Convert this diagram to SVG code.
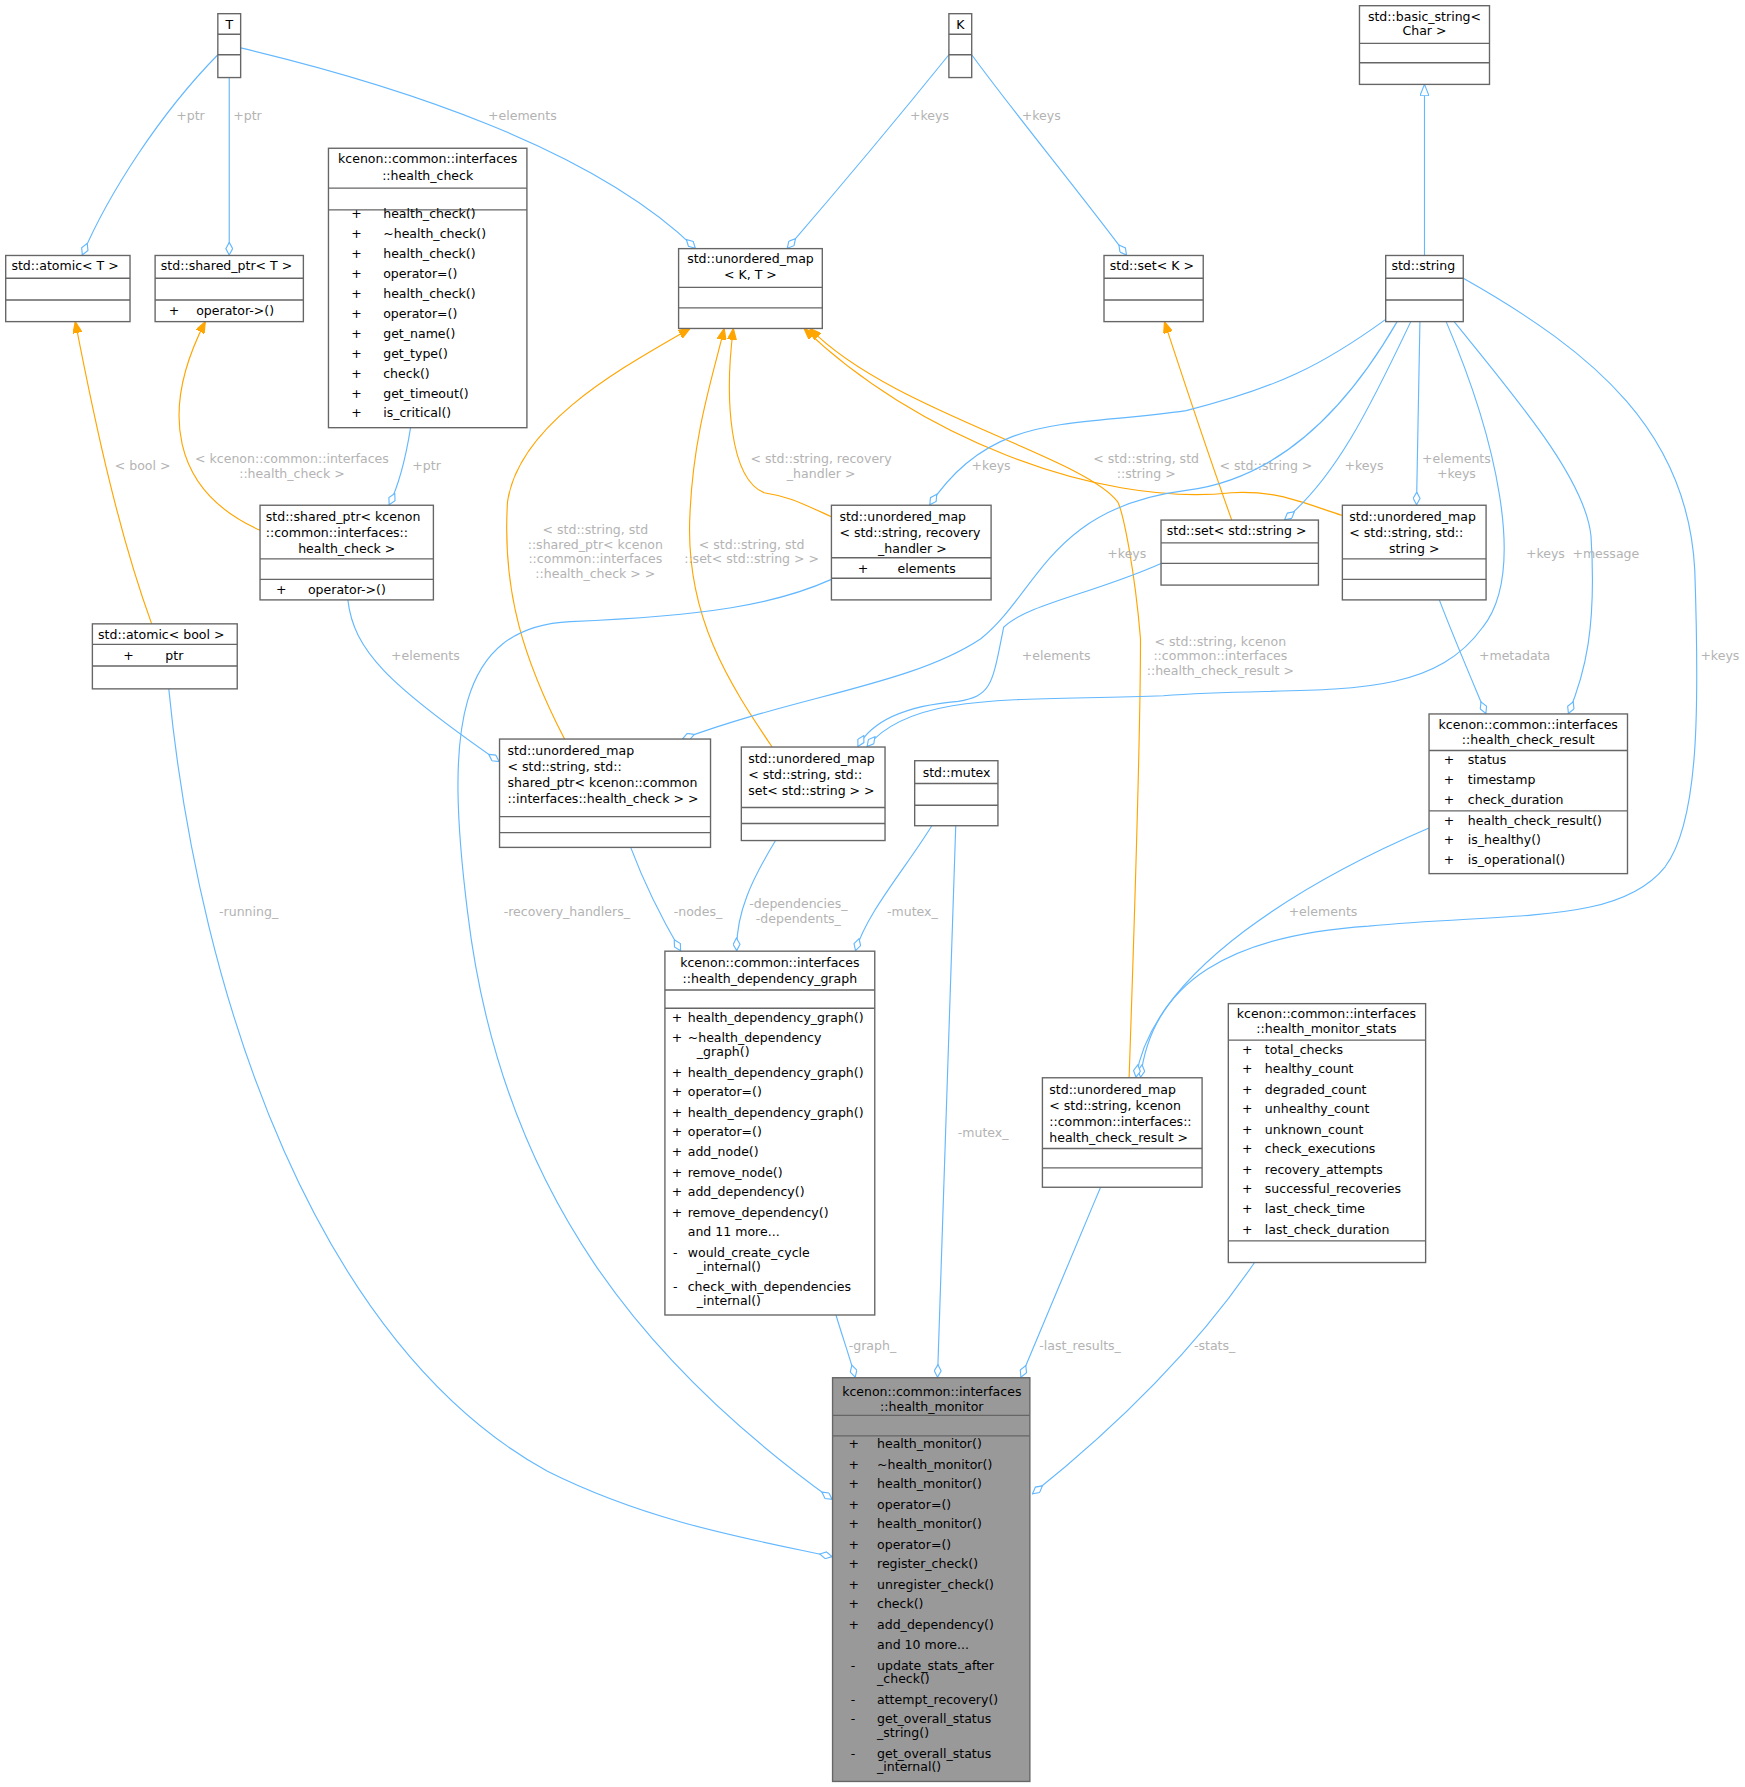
<svg xmlns="http://www.w3.org/2000/svg" width="1745" height="1787" viewBox="0 0 1745 1787">
<defs>
<style>
.n{fill:#fff;stroke:#666;stroke-width:1.2}
.g{fill:#999;stroke:#666;stroke-width:1.2}
.s{stroke:#666;stroke-width:1.2}
text{font-family:"DejaVu Sans",sans-serif;font-size:11px;fill:#000}
.c{text-anchor:middle}
.l{fill:#b3b3b3;text-anchor:middle}
.e{fill:none;stroke:#63b8ff;stroke-width:1}
.o{fill:none;stroke:#ffa500;stroke-width:1}
</style>
<marker id="dia" viewBox="0 0 12 7" refX="12" refY="3.5" markerWidth="12" markerHeight="7" markerUnits="userSpaceOnUse" orient="auto"><path d="M0.5,3.5 L6,0.5 L11.5,3.5 L6,6.5 Z" fill="#fff" stroke="#63b8ff" stroke-width="1"/></marker>
<marker id="arr" viewBox="0 0 10 8" refX="10" refY="4" markerWidth="10" markerHeight="8" markerUnits="userSpaceOnUse" orient="auto"><path d="M0,0 L10,4 L0,8 Z" fill="#ffa500" stroke="#ffa500"/></marker>
<marker id="tri" viewBox="0 0 10 8" refX="10" refY="4" markerWidth="10" markerHeight="8" markerUnits="userSpaceOnUse" orient="auto"><path d="M0,0 L10,4 L0,8 Z" fill="#fff" stroke="#63b8ff"/></marker>
</defs>
<rect width="1745" height="1787" fill="#fff"/>
<g transform="scale(1.1405)">
<g id="connectors">
<path class="e" marker-end="url(#dia)" d="M191,48 C140,100 95,170 72,224"/>
<text class="l" x="167" y="105">+ptr</text>
<path class="e" marker-end="url(#dia)" d="M201,68 L201,224"/>
<text class="l" x="217" y="105">+ptr</text>
<path class="e" marker-end="url(#dia)" d="M211,42 C350,75 520,130 610,218"/>
<text class="l" x="458" y="105">+elements</text>
<path class="e" marker-end="url(#dia)" d="M832,48 C790,100 740,160 690,218"/>
<text class="l" x="815" y="105">+keys</text>
<path class="e" marker-end="url(#dia)" d="M852,48 C890,100 940,160 988,224"/>
<text class="l" x="913" y="105">+keys</text>
<path class="e" marker-end="url(#tri)" d="M1249,224 L1249,74"/>
<path class="e" marker-end="url(#dia)" d="M360,375 C356,400 350,425 341,443"/>
<text class="l" x="374" y="412">+ptr</text>
<path class="o" marker-end="url(#arr)" d="M228,465 C150,430 140,360 180,282"/>
<text class="l" x="256" y="406">&lt; kcenon::common::interfaces</text>
<text class="l" x="256" y="419">::health_check &gt;</text>
<path class="o" marker-end="url(#arr)" d="M133,547 C105,470 85,380 66,282"/>
<text class="l" x="125" y="412">&lt; bool &gt;</text>
<path class="o" marker-end="url(#arr)" d="M495,648 C460,580 440,520 445,440 C455,370 550,320 605,288"/>
<text class="l" x="522" y="468">&lt; std::string, std</text>
<text class="l" x="522" y="481">::shared_ptr&lt; kcenon</text>
<text class="l" x="522" y="494">::common::interfaces</text>
<text class="l" x="522" y="507">::health_check &gt; &gt;</text>
<path class="o" marker-end="url(#arr)" d="M677,655 C640,600 600,540 605,450 C608,380 625,330 635,288"/>
<text class="l" x="659" y="481">&lt; std::string, std</text>
<text class="l" x="659" y="494">::set&lt; std::string &gt; &gt;</text>
<path class="o" marker-end="url(#arr)" d="M729,453 C700,440 690,435 670,432 C640,420 635,350 643,288"/>
<text class="l" x="720" y="406">&lt; std::string, recovery</text>
<text class="l" x="720" y="419">_handler &gt;</text>
<path class="o" marker-end="url(#arr)" d="M1177,452 C1140,440 1120,430 1080,432 C960,445 800,380 705,288"/>
<text class="l" x="1005" y="406">&lt; std::string, std</text>
<text class="l" x="1005" y="419">::string &gt;</text>
<path class="o" marker-end="url(#arr)" d="M990,945 C995,800 1000,620 1000,560 C995,500 985,450 980,440 C950,400 780,360 710,288"/>
<text class="l" x="1070" y="566">&lt; std::string, kcenon</text>
<text class="l" x="1070" y="579">::common::interfaces</text>
<text class="l" x="1070" y="592">::health_check_result &gt;</text>
<path class="o" marker-end="url(#arr)" d="M1080,456 C1060,400 1040,340 1021,282"/>
<text class="l" x="1110" y="412">&lt; std::string &gt;</text>
<path class="e" marker-end="url(#dia)" d="M1215,280 C1160,320 1120,340 1040,360 C940,375 870,360 815,443"/>
<text class="l" x="869" y="412">+keys</text>
<path class="e" marker-end="url(#dia)" d="M1225,282 C1180,360 1120,420 1040,430 C920,445 910,520 860,560 C800,600 700,610 598,648"/>
<text class="l" x="988" y="489">+keys</text>
<path class="e" marker-end="url(#dia)" d="M1237,282 C1200,360 1170,420 1126,456"/>
<text class="l" x="1196" y="412">+keys</text>
<path class="e" marker-end="url(#dia)" d="M1245,282 L1242,443"/>
<text class="l" x="1277" y="406">+elements</text>
<text class="l" x="1277" y="419">+keys</text>
<path class="e" marker-end="url(#dia)" d="M1268,282 C1310,380 1340,500 1300,550 C1250,620 1150,600 1020,610 C900,615 800,605 760,655"/>
<text class="l" x="1355" y="489">+keys</text>
<path class="e" marker-end="url(#dia)" d="M1275,282 C1330,350 1390,420 1395,470 C1400,550 1390,590 1375,626"/>
<text class="l" x="1408" y="489">+message</text>
<path class="e" marker-end="url(#dia)" d="M1283,244 C1400,310 1480,380 1486,500 C1490,620 1490,720 1460,760 C1420,810 1330,800 1200,812 C1080,820 1010,860 1000,945"/>
<text class="l" x="1508" y="579">+keys</text>
<path class="e" marker-end="url(#dia)" d="M1018,494 C960,520 900,530 880,550 C870,600 870,610 840,615 C780,620 760,640 752,655"/>
<text class="l" x="926" y="579">+elements</text>
<path class="e" marker-end="url(#dia)" d="M1262,526 C1275,560 1290,595 1303,626"/>
<text class="l" x="1328" y="579">+metadata</text>
<path class="e" marker-end="url(#dia)" d="M1253,726 C1150,770 1010,850 996,945"/>
<text class="l" x="1160" y="803">+elements</text>
<path class="e" marker-end="url(#dia)" d="M305,526 C310,570 340,600 438,668"/>
<text class="l" x="373" y="579">+elements</text>
<path class="e" marker-end="url(#dia)" d="M553,743 C565,775 580,805 597,834"/>
<text class="l" x="612" y="803">-nodes_</text>
<path class="e" marker-end="url(#dia)" d="M680,737 C660,770 645,800 646,834"/>
<text class="l" x="700" y="796">-dependencies_</text>
<text class="l" x="700" y="809">-dependents_</text>
<path class="e" marker-end="url(#dia)" d="M817,724 C795,760 760,800 750,834"/>
<text class="l" x="800" y="803">-mutex_</text>
<path class="e" marker-end="url(#dia)" d="M838,724 L822,1208"/>
<text class="l" x="862" y="997">-mutex_</text>
<path class="e" marker-end="url(#dia)" d="M733,1153 C738,1170 745,1190 750,1208"/>
<text class="l" x="765" y="1184">-graph_</text>
<path class="e" marker-end="url(#dia)" d="M965,1041 C940,1100 915,1160 895,1208"/>
<text class="l" x="947" y="1184">-last_results_</text>
<path class="e" marker-end="url(#dia)" d="M1100,1107 C1050,1180 980,1250 905,1310"/>
<text class="l" x="1065" y="1184">-stats_</text>
<path class="e" marker-end="url(#dia)" d="M729,508 C680,530 620,540 500,545 C400,550 390,640 410,800 C440,1050 570,1200 730,1315"/>
<text class="l" x="497" y="803">-recovery_handlers_</text>
<path class="e" marker-end="url(#dia)" d="M148,604 C175,880 280,1180 480,1290 C570,1335 660,1350 730,1365"/>
<text class="l" x="218" y="803">-running_</text>
</g>

<g id="T"><rect class="n" x="191" y="12" width="20" height="56"/><path class="s" d="M191,30H211M191,48H211"/><text class="c" x="201" y="25">T</text></g>
<g id="K"><rect class="n" x="832" y="12" width="20" height="56"/><path class="s" d="M832,30H852M832,48H852"/><text class="c" x="842" y="25">K</text></g>
<g id="basic_string"><rect class="n" x="1192" y="5" width="114" height="69"/><path class="s" d="M1192,38H1306M1192,55H1306"/><text class="c" x="1249" y="18">std::basic_string&lt;</text><text class="c" x="1249" y="31">Char &gt;</text></g>
<g id="atomic_T"><rect class="n" x="5" y="224" width="109" height="58"/><path class="s" d="M5,244H114M5,263H114"/><text x="10" y="237">std::atomic&lt; T &gt;</text></g>
<g id="shared_ptr_T"><rect class="n" x="136" y="224" width="130" height="58"/><path class="s" d="M136,244H266M136,263H266"/><text x="141" y="237">std::shared_ptr&lt; T &gt;</text><text x="148" y="276">+</text><text x="172" y="276">operator-&gt;()</text></g>
<g id="health_check"><rect class="n" x="288" y="130" width="174" height="245"/><path class="s" d="M288,165H462M288,184H462"/><text class="c" x="375" y="143">kcenon::common::interfaces</text><text class="c" x="375" y="158">::health_check</text>
<text x="308" y="191">+</text><text x="336" y="191">health_check()</text>
<text x="308" y="209">+</text><text x="336" y="209">~health_check()</text>
<text x="308" y="226">+</text><text x="336" y="226">health_check()</text>
<text x="308" y="244">+</text><text x="336" y="244">operator=()</text>
<text x="308" y="261">+</text><text x="336" y="261">health_check()</text>
<text x="308" y="279">+</text><text x="336" y="279">operator=()</text>
<text x="308" y="296">+</text><text x="336" y="296">get_name()</text>
<text x="308" y="314">+</text><text x="336" y="314">get_type()</text>
<text x="308" y="331">+</text><text x="336" y="331">check()</text>
<text x="308" y="349">+</text><text x="336" y="349">get_timeout()</text>
<text x="308" y="366">+</text><text x="336" y="366">is_critical()</text></g>
<g id="umap_KT"><rect class="n" x="595" y="218" width="126" height="70"/><path class="s" d="M595,252H721M595,270H721"/><text class="c" x="658" y="231">std::unordered_map</text><text class="c" x="658" y="245">&lt; K, T &gt;</text></g>
<g id="set_K"><rect class="n" x="968" y="224" width="87" height="58"/><path class="s" d="M968,244H1055M968,263H1055"/><text x="973" y="237">std::set&lt; K &gt;</text></g>
<g id="string"><rect class="n" x="1215" y="224" width="68" height="58"/><path class="s" d="M1215,244H1283M1215,263H1283"/><text x="1220" y="237">std::string</text></g>
<g id="shared_ptr_hc"><rect class="n" x="228" y="443" width="152" height="83"/><path class="s" d="M228,490H380M228,508H380"/><text x="233" y="457">std::shared_ptr&lt; kcenon</text><text x="233" y="471">::common::interfaces::</text><text class="c" x="304" y="485">health_check &gt;</text><text x="242" y="521">+</text><text x="270" y="521">operator-&gt;()</text></g>
<g id="atomic_bool"><rect class="n" x="81" y="547" width="127" height="57"/><path class="s" d="M81,565H208M81,584H208"/><text x="86" y="560">std::atomic&lt; bool &gt;</text><text x="108" y="579">+</text><text x="145" y="579">ptr</text></g>
<g id="umap_recovery"><rect class="n" x="729" y="443" width="140" height="83"/><path class="s" d="M729,489H869M729,507H869"/><text x="736" y="457">std::unordered_map</text><text x="736" y="471">&lt; std::string, recovery</text><text class="c" x="800" y="485">_handler &gt;</text><text x="752" y="502">+</text><text x="787" y="502">elements</text></g>
<g id="set_string"><rect class="n" x="1018" y="456" width="138" height="57"/><path class="s" d="M1018,476H1156M1018,494H1156"/><text x="1023" y="469">std::set&lt; std::string &gt;</text></g>
<g id="umap_ss"><rect class="n" x="1177" y="443" width="126" height="83"/><path class="s" d="M1177,490H1303M1177,508H1303"/><text x="1183" y="457">std::unordered_map</text><text x="1183" y="471">&lt; std::string, std::</text><text class="c" x="1240" y="485">string &gt;</text></g>
<g id="umap_sp"><rect class="n" x="438" y="648" width="185" height="95"/><path class="s" d="M438,716H623M438,730H623"/><text x="445" y="662">std::unordered_map</text><text x="445" y="676">&lt; std::string, std::</text><text x="445" y="690">shared_ptr&lt; kcenon::common</text><text x="445" y="704">::interfaces::health_check &gt; &gt;</text></g>
<g id="umap_set"><rect class="n" x="650" y="655" width="126" height="82"/><path class="s" d="M650,708H776M650,722H776"/><text x="656" y="669">std::unordered_map</text><text x="656" y="683">&lt; std::string, std::</text><text x="656" y="697">set&lt; std::string &gt; &gt;</text></g>
<g id="mutex"><rect class="n" x="802" y="667" width="73" height="57"/><path class="s" d="M802,687H875M802,706H875"/><text x="809" y="681">std::mutex</text></g>
<g id="health_check_result"><rect class="n" x="1253" y="626" width="174" height="140"/><path class="s" d="M1253,658H1427M1253,711H1427"/><text class="c" x="1340" y="639">kcenon::common::interfaces</text><text class="c" x="1340" y="652">::health_check_result</text>
<text x="1266" y="670">+</text><text x="1287" y="670">status</text>
<text x="1266" y="687">+</text><text x="1287" y="687">timestamp</text>
<text x="1266" y="705">+</text><text x="1287" y="705">check_duration</text>
<text x="1266" y="723">+</text><text x="1287" y="723">health_check_result()</text>
<text x="1266" y="740">+</text><text x="1287" y="740">is_healthy()</text>
<text x="1266" y="758">+</text><text x="1287" y="758">is_operational()</text></g>
<g id="health_dependency_graph"><rect class="n" x="583" y="834" width="184" height="319"/><path class="s" d="M583,868H767M583,884H767"/><text class="c" x="675" y="848">kcenon::common::interfaces</text><text class="c" x="675" y="862">::health_dependency_graph</text>
<text x="589" y="896">+</text><text x="603" y="896">health_dependency_graph()</text>
<text x="589" y="914">+</text><text x="603" y="914">~health_dependency</text><text x="611" y="926">_graph()</text>
<text x="589" y="944">+</text><text x="603" y="944">health_dependency_graph()</text>
<text x="589" y="961">+</text><text x="603" y="961">operator=()</text>
<text x="589" y="979">+</text><text x="603" y="979">health_dependency_graph()</text>
<text x="589" y="996">+</text><text x="603" y="996">operator=()</text>
<text x="589" y="1014">+</text><text x="603" y="1014">add_node()</text>
<text x="589" y="1032">+</text><text x="603" y="1032">remove_node()</text>
<text x="589" y="1049">+</text><text x="603" y="1049">add_dependency()</text>
<text x="589" y="1067">+</text><text x="603" y="1067">remove_dependency()</text>
<text x="603" y="1084">and 11 more...</text>
<text x="590" y="1102">-</text><text x="603" y="1102">would_create_cycle</text><text x="611" y="1114">_internal()</text>
<text x="590" y="1132">-</text><text x="603" y="1132">check_with_dependencies</text><text x="611" y="1144">_internal()</text></g>
<g id="umap_hcr"><rect class="n" x="914" y="945" width="140" height="96"/><path class="s" d="M914,1007H1054M914,1024H1054"/><text x="920" y="959">std::unordered_map</text><text x="920" y="973">&lt; std::string, kcenon</text><text x="920" y="987">::common::interfaces::</text><text x="920" y="1001">health_check_result &gt;</text></g>
<g id="health_monitor_stats"><rect class="n" x="1077" y="880" width="173" height="227"/><path class="s" d="M1077,912H1250M1077,1088H1250"/><text class="c" x="1163" y="893">kcenon::common::interfaces</text><text class="c" x="1163" y="906">::health_monitor_stats</text>
<text x="1089" y="924">+</text><text x="1109" y="924">total_checks</text>
<text x="1089" y="941">+</text><text x="1109" y="941">healthy_count</text>
<text x="1089" y="959">+</text><text x="1109" y="959">degraded_count</text>
<text x="1089" y="976">+</text><text x="1109" y="976">unhealthy_count</text>
<text x="1089" y="994">+</text><text x="1109" y="994">unknown_count</text>
<text x="1089" y="1011">+</text><text x="1109" y="1011">check_executions</text>
<text x="1089" y="1029">+</text><text x="1109" y="1029">recovery_attempts</text>
<text x="1089" y="1046">+</text><text x="1109" y="1046">successful_recoveries</text>
<text x="1089" y="1064">+</text><text x="1109" y="1064">last_check_time</text>
<text x="1089" y="1082">+</text><text x="1109" y="1082">last_check_duration</text></g>
<g id="health_monitor"><rect class="g" x="730" y="1208" width="173" height="354"/><path class="s" d="M730,1241H903M730,1259H903"/><text class="c" x="817" y="1224">kcenon::common::interfaces</text><text class="c" x="817" y="1237">::health_monitor</text>
<text x="744" y="1270">+</text><text x="769" y="1270">health_monitor()</text>
<text x="744" y="1288">+</text><text x="769" y="1288">~health_monitor()</text>
<text x="744" y="1305">+</text><text x="769" y="1305">health_monitor()</text>
<text x="744" y="1323">+</text><text x="769" y="1323">operator=()</text>
<text x="744" y="1340">+</text><text x="769" y="1340">health_monitor()</text>
<text x="744" y="1358">+</text><text x="769" y="1358">operator=()</text>
<text x="744" y="1375">+</text><text x="769" y="1375">register_check()</text>
<text x="744" y="1393">+</text><text x="769" y="1393">unregister_check()</text>
<text x="744" y="1410">+</text><text x="769" y="1410">check()</text>
<text x="744" y="1428">+</text><text x="769" y="1428">add_dependency()</text>
<text x="769" y="1446">and 10 more...</text>
<text x="746" y="1464">-</text><text x="769" y="1464">update_stats_after</text><text x="769" y="1476">_check()</text>
<text x="746" y="1494">-</text><text x="769" y="1494">attempt_recovery()</text>
<text x="746" y="1511">-</text><text x="769" y="1511">get_overall_status</text><text x="769" y="1523">_string()</text>
<text x="746" y="1541">-</text><text x="769" y="1541">get_overall_status</text><text x="769" y="1553">_internal()</text></g>
</g>
</svg>
